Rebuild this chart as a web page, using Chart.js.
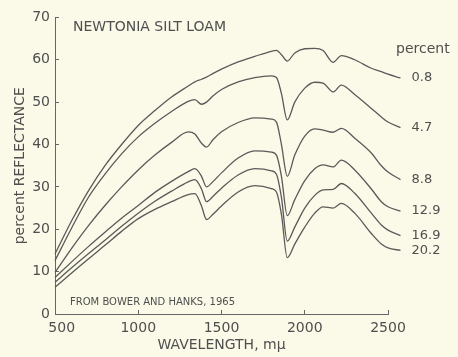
<!DOCTYPE html>
<html>
<head>
<meta charset="utf-8">
<script src="https://cdn.jsdelivr.net/npm/chart.js@4.4.1/dist/chart.umd.min.js"></script>
<style>
  html, body { margin: 0; padding: 0; background: #fbf9e7; }
  canvas { display: block; }
</style>
</head>
<body>
<canvas id="myChart" width="458" height="357"></canvas>
<script>
// wavelength (m\u03bc) and reflectance (%)
let wavelengths = [500, 600, 700, 800, 900, 1000, 1100, 1200, 1300, 1340, 1380, 1410, 1450, 1500, 1600, 1700,
                   1800, 1830, 1860, 1895, 1940, 2000, 2060, 2110, 2170, 2220, 2300, 2400, 2460, 2500, 2575];
let moisture = ['0.8', '4.7', '8.8', '12.9', '16.9', '20.2'];

let refl1 = [14.2, 22, 29, 35, 40, 44.5, 48, 51.2, 53.8, 54.8, 55.4, 55.9, 56.8, 57.8, 59.5, 60.8,
             62, 62.2, 61.2, 59.7, 61.6, 62.6, 62.7, 62.2, 59.4, 61, 60, 58, 57.2, 56.6, 55.7];
let refl2 = [12.6, 20.3, 27.5, 33, 37.8, 41.8, 45, 47.8, 50.2, 50.6, 49.5, 50, 51.5, 53, 54.8, 55.8,
             56.2, 55.8, 52, 45.8, 50, 53.3, 54.7, 54.5, 52.4, 54, 51.8, 48.5, 46.5, 45.3, 44];
let refl3 = [9.8, 15.5, 20.8, 25.6, 30, 34, 37.5, 40.5, 43, 42.5, 40.3, 39.4, 41.2, 43, 45.2, 46.3,
             46, 45.3, 40, 32.5, 37.5, 42, 43.7, 43.4, 42.9, 43.8, 41.5, 38, 35, 33.5, 31.7];
let refl4 = [8.6, 12.3, 15.9, 19.3, 22.6, 25.6, 28.7, 31.3, 33.6, 34.3, 32.5, 30, 31.3, 33.3, 36.8, 38.5,
             38.2, 37.5, 32.5, 23.2, 27, 31.5, 34.3, 35.2, 34.7, 36.3, 34, 29.5, 26.5, 25.3, 24.3];
let refl5 = [7.5, 10.9, 14.2, 17.4, 20.7, 23.8, 26.6, 29, 31.2, 31.7, 29.5, 26.5, 27.8, 29.7, 32.8, 34.3,
             33.8, 33, 27.5, 17.2, 20.5, 25, 28, 29.3, 29.4, 30.8, 28.5, 23.8, 21, 19.8, 18.5];
let refl6 = [6.3, 9.7, 13, 16.2, 19.5, 22.5, 24.7, 26.5, 28.2, 28.4, 25.5, 22.3, 23.6, 25.5, 28.8, 30.3,
             29.6, 28.8, 23.5, 13.3, 16.5, 20.5, 23.8, 25.3, 25, 26.1, 23.8, 19, 16.5, 15.6, 15];
let series = [refl1, refl2, refl3, refl4, refl5, refl6];

let ink = '#4f4f4f';
let fontFamily = '"DejaVu Sans", sans-serif';

let texts = {
    id: 'texts',
    afterDatasetsDraw(chart) {
        let ctx = chart.ctx;
        let xs = chart.scales.x, ys = chart.scales.y;
        ctx.save();
        ctx.fillStyle = ink;
        ctx.textBaseline = 'middle';
        ctx.font = '14px ' + fontFamily;
        ctx.fillText('NEWTONIA SILT LOAM', 73, 27);
        ctx.fillText('percent', 396, 49);
        ctx.font = '13px ' + fontFamily;
        series.forEach((s, i) => {
            let last = s.length - 1;
            ctx.fillText(moisture[i], xs.getPixelForValue(wavelengths[last]) + 11, ys.getPixelForValue(s[last]));
        });
        ctx.font = '10px ' + fontFamily;
        ctx.fillText('FROM BOWER AND HANKS, 1965', 70, 302);
        ctx.restore();
    }
};

let myChart = document.getElementById('myChart').getContext('2d');

let chart = new Chart(myChart, {
    type: 'line',
    data: {
        datasets: series.map((s, i) => ({
            label: moisture[i],
            data: wavelengths.map((w, j) => ({x: w, y: s[j]})),
            borderColor: '#5a5a5a',
            borderWidth: 1.3,
            pointRadius: 0,
            fill: false,
            cubicInterpolationMode: 'monotone',
            clip: false
        }))
    },
    options: {
        responsive: false,
        animation: false,
        layout: {
            padding: {top: 14, right: 70, left: 0, bottom: 0}
        },
        plugins: {
            legend: {display: false},
            tooltip: {enabled: false}
        },
        scales: {
            x: {
                type: 'linear',
                afterDataLimits: s => { s.min = 500; s.max = 2500; },
                afterFit: s => { s.height = 43; },
                grid: {drawOnChartArea: false, tickLength: -4, color: '#666'},
                border: {color: '#666', width: 1},
                ticks: {
                    stepSize: 500,
                    padding: 10,
                    color: ink,
                    font: {family: fontFamily, size: 14},
                    // the first label sits a little right of the corner
                    callback: v => v === 500 ? '   500' : String(v)
                },
                title: {
                    display: true,
                    text: 'WAVELENGTH, m\u03bc',
                    color: ink,
                    font: {family: fontFamily, size: 14},
                    padding: {top: 0, bottom: 3}
                }
            },
            y: {
                min: 0,
                max: 70,
                afterFit: s => { s.width = 55; },
                grid: {drawOnChartArea: false, tickLength: -4, color: '#666'},
                border: {color: '#666', width: 1},
                ticks: {stepSize: 10, padding: 9, color: ink, font: {family: fontFamily, size: 14}},
                title: {
                    display: true,
                    text: 'percent REFLECTANCE',
                    color: ink,
                    font: {family: fontFamily, size: 14},
                    padding: {top: 12, bottom: 0}
                }
            }
        }
    },
    plugins: [texts]
});
</script>
</body>
</html>
